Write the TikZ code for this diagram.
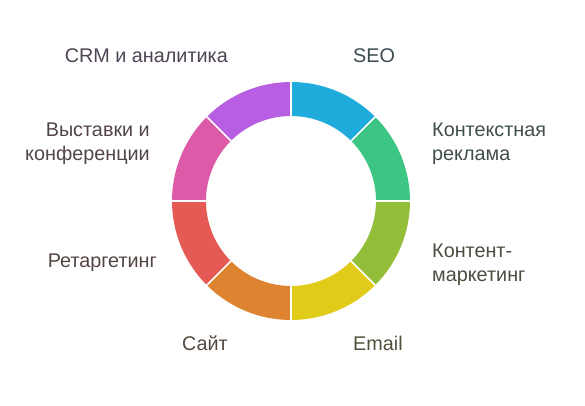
\documentclass[tikz,border=0pt]{standalone}
\usepackage{fontspec}
\setmainfont{Liberation Sans}
\usetikzlibrary{positioning}
\usetikzlibrary{calc}

\definecolor{seoblue}{HTML}{1FABDB}
\definecolor{ctxgreen}{HTML}{3DC584}
\definecolor{contolive}{HTML}{93BE3A}
\definecolor{mailyellow}{HTML}{E0CB18}
\definecolor{siteorange}{HTML}{DE8430}
\definecolor{retred}{HTML}{E55A55}
\definecolor{expopink}{HTML}{DC5AA8}
\definecolor{crmpurple}{HTML}{B75EE3}

\tikzset{seglabel/.style={font=\fontsize{19.8}{24}\selectfont, inner sep=0pt}}

\begin{document}
\begin{tikzpicture}[x=1pt,y=1pt]
                \useasboundingbox (0,0) rectangle (585,405);
                % Define the centre of the ring
                \coordinate (ring) at (291,204);

                % Draw the segments
                \foreach \start/\col in {90/seoblue, 45/ctxgreen, 0/contolive, -45/mailyellow, -90/siteorange, -135/retred, -180/expopink, -225/crmpurple}
                    \fill[\col] ($(ring)+(\start:119)$) arc[start angle=\start, end angle=\start-45, radius=119]
                        -- ($(ring)+(\start-45:85)$) arc[start angle=\start-45, end angle=\start, radius=85] -- cycle;

                % Draw the gaps
                \foreach \a in {0,45,...,315}
                    \draw[white, line width=1.6pt] ($(ring)+(\a:84)$) -- ($(ring)+(\a:120)$);

                % Labels
                \node[seglabel, text=seoblue!15!black!78!white, anchor=mid west] (seo) at (353,345) {SEO};
                \node[seglabel, text=ctxgreen!15!black!78!white, anchor=west, align=left] (ctx) at (432,261.5) {Контекстная\\реклама};
                \node[seglabel, text=contolive!15!black!78!white, anchor=west, align=left] (content) at (432,140.5) {Контент-\\маркетинг};
                \node[seglabel, text=mailyellow!15!black!78!white, anchor=mid west] (email) at (353,57) {Email};
                \node[seglabel, text=siteorange!15!black!78!white, anchor=mid east] (site) at (228,57) {Сайт};
                \node[seglabel, text=retred!15!black!78!white, anchor=mid east] (retarget) at (157,140) {Ретаргетинг};
                \node[seglabel, text=expopink!15!black!78!white, anchor=east, align=right] (expo) at (150,261.5) {Выставки и\\конференции};
                \node[seglabel, text=crmpurple!15!black!78!white, anchor=mid east] (crm) at (228,345) {CRM и аналитика};
            \end{tikzpicture}
\end{document}
